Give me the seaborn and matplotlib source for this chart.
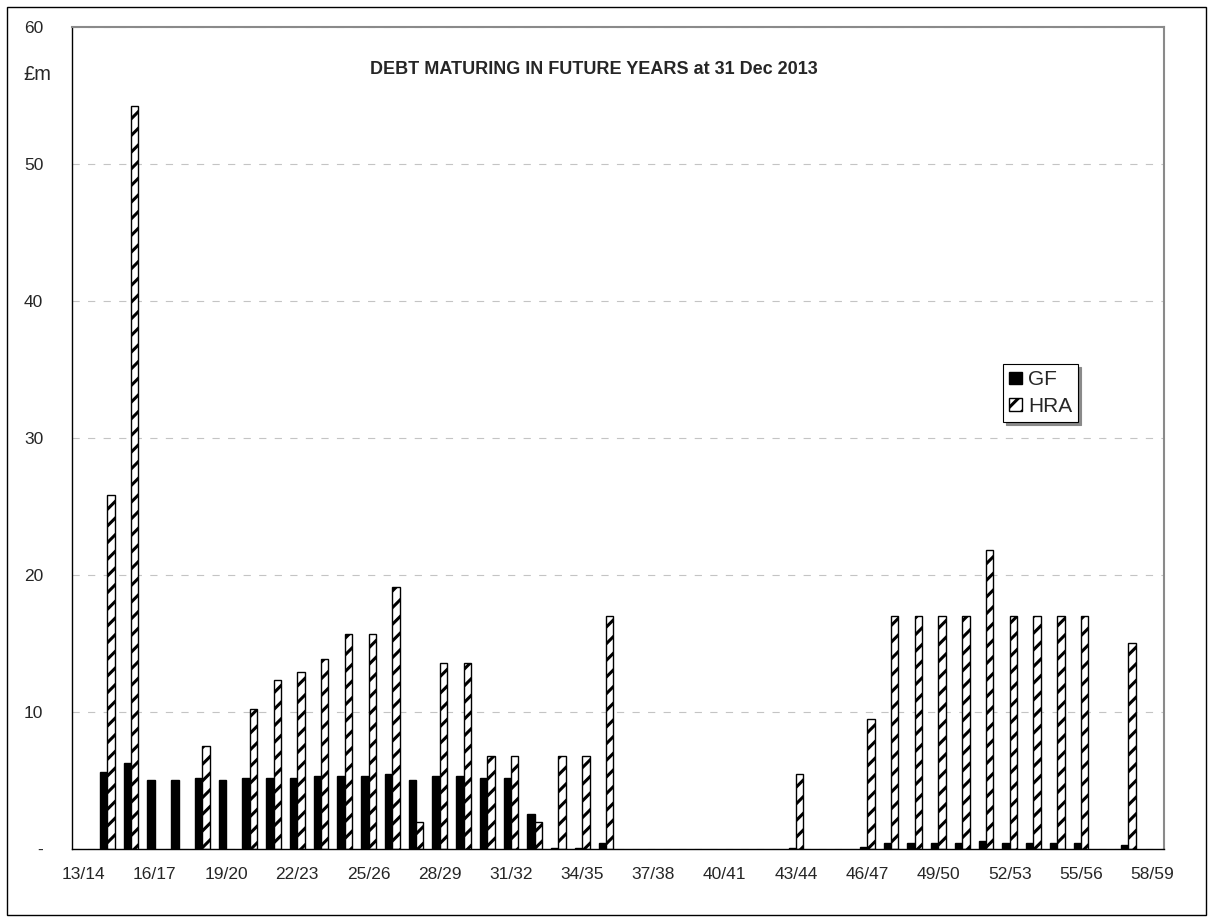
import numpy as np
import pandas as pd
import matplotlib
matplotlib.use("Agg")
import matplotlib.pyplot as plt
from matplotlib.patches import Patch, Rectangle
import seaborn as sns

# Financial years (x categories)
years = ["13/14", "14/15", "15/16", "16/17", "17/18", "18/19", "19/20", "20/21",
         "21/22", "22/23", "23/24", "24/25", "25/26", "26/27", "27/28", "28/29",
         "29/30", "30/31", "31/32", "32/33", "33/34", "34/35", "35/36", "36/37",
         "37/38", "38/39", "39/40", "40/41", "41/42", "42/43", "43/44", "44/45",
         "45/46", "46/47", "47/48", "48/49", "49/50", "50/51", "51/52", "52/53",
         "53/54", "54/55", "55/56", "56/57", "57/58", "58/59"]

# Debt maturing per year, £m
gf = [0, 5.6, 6.3, 5.0, 5.0, 5.15, 5.0, 5.2, 5.2, 5.2, 5.35, 5.35, 5.35, 5.45,
      5.0, 5.35, 5.35, 5.15, 5.15, 2.55, 0.05, 0.05, 0.45, 0, 0, 0, 0, 0, 0, 0,
      0.05, 0, 0, 0.15, 0.45, 0.45, 0.45, 0.45, 0.55, 0.45, 0.45, 0.45, 0.45,
      0, 0.3, 0]
hra = [0, 25.8, 54.2, 0, 0, 7.5, 0, 10.2, 12.3, 12.9, 13.85, 15.7, 15.7, 19.1,
       2.0, 13.6, 13.6, 6.8, 6.8, 2.0, 6.8, 6.8, 17.0, 0, 0, 0, 0, 0, 0, 0,
       5.5, 0, 0, 9.5, 17.0, 17.0, 17.0, 17.0, 21.8, 17.0, 17.0, 17.0, 17.0,
       0, 15.0, 0]

funds = ["GF", "HRA"]
y_ticks = [0, 10, 20, 30, 40, 50, 60]
y_labels = ["-", "10", "20", "30", "40", "50", "60"]
x_label_every = 3

sns.set_style("white")
plt.rcParams["font.family"] = ["Liberation Sans", "DejaVu Sans"]
plt.rcParams["hatch.linewidth"] = 2.2
plt.rcParams["hatch.color"] = "black"

W, H = 1213, 922
fig = plt.figure(figsize=(W / 100, H / 100), dpi=100)
ax = fig.add_axes([71.7 / W, 1 - 849 / H, (1164 - 71.7) / W, (849 - 26.7) / H])

df = pd.DataFrame({
    "year": years * 2,
    "fund": [funds[0]] * len(years) + [funds[1]] * len(years),
    "value": gf + hra,
})

sns.barplot(data=df, x="year", y="value", hue="fund", order=years,
            hue_order=funds, palette={"GF": "black", "HRA": "white"},
            width=0.62, errorbar=None, edgecolor="black", linewidth=1.0,
            saturation=1, legend=False, ax=ax)

for patch in ax.containers[1]:
    patch.set_hatch("//")
for cont in ax.containers:
    for patch in cont:
        if patch.get_height() == 0:
            patch.set_linewidth(0)

# grid
ax.set_axisbelow(True)
ax.yaxis.grid(True, color="#c4c4c4", linestyle=(0, (6.5, 7.5)), linewidth=0.8)
ax.xaxis.grid(False)

# axes limits & ticks
ax.set_xlim(-0.5, len(years) - 0.5)
ax.set_ylim(0, 60)
ax.set_xticks(np.arange(-0.5, len(years), 1.0))
ax.set_xticks(np.arange(0, len(years), x_label_every),
              labels=years[::x_label_every], minor=True)
ax.tick_params(axis="x", which="major", direction="out", length=4.5,
               width=0.9, color="black", labelbottom=False)
ax.tick_params(axis="x", which="minor", length=0, pad=13, labelsize=12.5)
ax.set_yticks(y_ticks, labels=y_labels)
ax.tick_params(axis="y", which="major", direction="inout", length=10,
               width=0.9, color="black", pad=15.5, labelsize=12.5)
ax.set_xlabel("")
ax.set_ylabel("")

for side in ("top", "right"):
    ax.spines[side].set_color("#8a8a8a")
    ax.spines[side].set_linewidth(1.5)
for side in ("left", "bottom"):
    ax.spines[side].set_color("black")
    ax.spines[side].set_linewidth(1.0)

# title and unit
fig.text(594 / W, 1 - 70 / H, "DEBT MATURING IN FUTURE YEARS at 31 Dec 2013",
         ha="center", va="center", fontsize=13, fontweight="bold")
fig.text(23 / W, 1 - 75 / H, "£m", ha="left", va="center", fontsize=14.5)

# legend
handles = [Patch(facecolor="black", edgecolor="black", label="GF"),
           Patch(facecolor="white", edgecolor="black", hatch="//", label="HRA")]
leg = ax.legend(handles=handles, loc="lower left",
                bbox_to_anchor=(1003 / W, 1 - 422 / H),
                bbox_transform=fig.transFigure, borderaxespad=0,
                frameon=True, fancybox=False, framealpha=1, edgecolor="black",
                handlelength=0.62, handleheight=0.55, handletextpad=0.28,
                borderpad=0.3, labelspacing=0.35, fontsize=15,
                shadow={"color": "#8a8a8a", "alpha": 1.0})
leg.get_frame().set_linewidth(0.8)

# outer chart border
fig.patches.append(Rectangle((7 / W, 7 / H), (1206 - 7) / W, (915 - 7) / H,
                             transform=fig.transFigure, fill=False,
                             edgecolor="black", linewidth=1.0))

fig.savefig("out.png", dpi=100)
